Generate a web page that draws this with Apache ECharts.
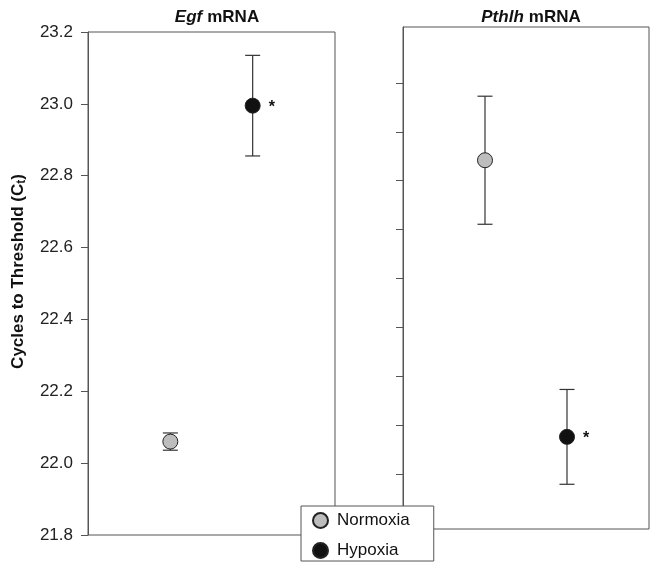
<!DOCTYPE html>
<html>
<head>
<meta charset="utf-8">
<script src="https://cdn.jsdelivr.net/npm/echarts@6/dist/echarts.min.js"></script>
<style>
  html, body { margin: 0; padding: 0; background: #fff; }
  #chart { width: 656px; height: 572px; }
</style>
</head>
<body>
<div id="chart"></div>
<script>
// groups, in x order on each panel
const groups = ['Normoxia', 'Hypoxia'];
const groupX = [1, 2];

// Egf panel (left), Ct mean and error
const egfMean = [22.06, 22.995];
const egfErr = [0.024, 0.14];

// Pthlh panel (right), Ct mean and error (own scale, unlabeled)
const pthlhMean = [23.842, 23.276];
const pthlhErr = [0.131, 0.097];

// axis ticks
const leftTicks = { min: 21.8, max: 23.2, step: 0.2 };
const rightTicks = { min: 23.2, max: 24.0, step: 0.1 };
const rightBox = { min: 23.0875, max: 24.1146 };

const colors = { Normoxia: '#bdbdbd', Hypoxia: '#111111' };
const font = 'Liberation Sans, Arial, sans-serif';

const chart = echarts.init(document.getElementById('chart'));

function errSeries(xIdx, means, errs) {
  return {
    type: 'custom',
    xAxisIndex: xIdx,
    yAxisIndex: xIdx,
    z: 1,
    silent: true,
    data: means.map((m, i) => [groupX[i], m - errs[i], m + errs[i]]),
    renderItem: function (params, api) {
      const x = api.value(0);
      const lo = api.coord([x, api.value(1)]);
      const hi = api.coord([x, api.value(2)]);
      const cap = 7.5;
      const st = { stroke: '#333', lineWidth: 1.2 };
      return {
        type: 'group',
        children: [
          { type: 'line', shape: { x1: lo[0], y1: lo[1], x2: hi[0], y2: hi[1] }, style: st },
          { type: 'line', shape: { x1: lo[0] - cap, y1: lo[1], x2: lo[0] + cap, y2: lo[1] }, style: st },
          { type: 'line', shape: { x1: hi[0] - cap, y1: hi[1], x2: hi[0] + cap, y2: hi[1] }, style: st }
        ]
      };
    }
  };
}

function pointSeries(xIdx, gi, means, star) {
  const name = groups[gi];
  return {
    name: name,
    type: 'scatter',
    xAxisIndex: xIdx,
    yAxisIndex: xIdx,
    z: 3,
    symbol: 'circle',
    symbolSize: 15,
    itemStyle: { color: colors[name], borderColor: '#222', borderWidth: 1, opacity: 1 },
    label: {
      show: star,
      position: 'right',
      distance: 8,
      formatter: '*',
      color: '#111',
      fontSize: 16,
      fontWeight: 'bold',
      fontFamily: font,
      offset: [0, 2]
    },
    data: [[groupX[gi], means[gi]]]
  };
}

const hiddenX = (gi) => ({
  type: 'value', gridIndex: gi, min: 0, max: 3,
  axisLine: { show: false }, axisTick: { show: false },
  axisLabel: { show: false }, splitLine: { show: false }
});

const titleRich = {
  i: { fontStyle: 'italic', fontWeight: 'bold', fontSize: 17, fontFamily: font, color: '#111' },
  b: { fontWeight: 'bold', fontSize: 17, fontFamily: font, color: '#111' }
};

const option = {
  animation: false,
  backgroundColor: '#fff',
  title: [
    { text: '{i|Egf} {b|mRNA}', left: 212, top: 3, textAlign: 'center', textStyle: { rich: titleRich } },
    { text: '{i|Pthlh} {b|mRNA}', left: 526, top: 3, textAlign: 'center', textStyle: { rich: titleRich } }
  ],
  legend: {
    data: groups,
    orient: 'vertical',
    left: 301, top: 506,
    itemWidth: 15, itemHeight: 15, itemGap: 13,
    padding: [6, 24, 2, 11],
    backgroundColor: '#fff',
    borderColor: '#555', borderWidth: 1,
    borderRadius: 0,
    icon: 'circle',
    textStyle: { fontSize: 17, fontFamily: font, color: '#111', padding: [0, 0, 0, 4] },
    z: 10
  },
  grid: [
    { left: 88, top: 32, width: 247, height: 503, show: true, borderColor: '#555', borderWidth: 1, backgroundColor: 'transparent' },
    { left: 403, top: 27, width: 246, height: 502, show: true, borderColor: '#555', borderWidth: 1, backgroundColor: 'transparent' },
    { left: 403, top: 83, width: 10, height: 391 }
  ],
  xAxis: [hiddenX(0), hiddenX(1), hiddenX(2)],
  yAxis: [
    {
      type: 'value', gridIndex: 0,
      min: leftTicks.min, max: leftTicks.max, interval: leftTicks.step,
      name: '{b|Cycles to Threshold (C}{s|t}{b|)}',
      nameLocation: 'middle', nameRotate: 90, nameGap: 60,
      nameTextStyle: {
        padding: [0, 0, 0, 24],
        rich: {
          b: { fontWeight: 'bold', fontSize: 17, fontFamily: font, color: '#111' },
          s: { fontWeight: 'bold', fontSize: 12, fontFamily: font, color: '#111', padding: [8, 0, 0, 0] }
        }
      },
      axisLine: { show: true, lineStyle: { color: '#555', width: 1 } },
      axisTick: { show: true, inside: false, length: 7, lineStyle: { color: '#555' } },
      axisLabel: { show: true, margin: 15, fontSize: 17, fontFamily: font, color: '#222',
        formatter: (v) => v.toFixed(1) },
      splitLine: { show: false }
    },
    {
      type: 'value', gridIndex: 1,
      min: rightBox.min, max: rightBox.max,
      axisLine: { show: true, lineStyle: { color: '#555', width: 1 } },
      axisTick: { show: false }, axisLabel: { show: false }, splitLine: { show: false }
    },
    {
      type: 'value', gridIndex: 2,
      min: rightTicks.min, max: rightTicks.max, interval: rightTicks.step,
      axisLine: { show: false },
      axisTick: { show: true, inside: false, length: 7, lineStyle: { color: '#555' } },
      axisLabel: { show: false }, splitLine: { show: false }
    }
  ],
  series: [
    errSeries(0, egfMean, egfErr),
    errSeries(1, pthlhMean, pthlhErr),
    pointSeries(0, 0, egfMean, false),
    pointSeries(0, 1, egfMean, true),
    pointSeries(1, 0, pthlhMean, false),
    pointSeries(1, 1, pthlhMean, true)
  ]
};

chart.setOption(option);
</script>
</body>
</html>
